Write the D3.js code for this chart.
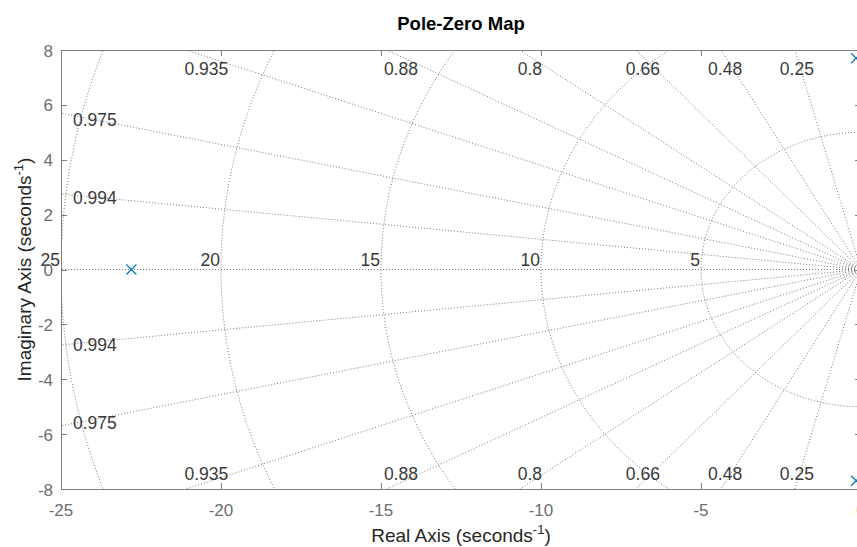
<!DOCTYPE html>
<html><head><meta charset="utf-8">
<script src="https://cdn.jsdelivr.net/npm/d3@7"></script>
<style>
body{margin:0;background:#fff;}
text{font-family:"Liberation Sans",Arial,Helvetica,sans-serif;}
</style></head>
<body><svg id="c" width="857" height="547"></svg>
<script>
// ---- data ----
const xTicks = [-25, -20, -15, -10, -5, 0];
const yTicks = [-8, -6, -4, -2, 0, 2, 4, 6, 8];
const zetaValues = [0.25, 0.48, 0.66, 0.8, 0.88, 0.935, 0.975, 0.994];
const wnValues = [5, 10, 15, 20, 25];
const poleReal = [-22.8, -0.15, -0.15];
const poleImag = [0, 7.7, -7.7];
const xDomain = [-25, 0];
const yDomain = [-8, 8];

// ---- layout ----
const W = 857, H = 547;
const m = {left: 61, right: 861, top: 50, bottom: 489};
const svg = d3.select("#c");
const x = d3.scaleLinear().domain(xDomain).range([m.left, m.right]);
const y = d3.scaleLinear().domain(yDomain).range([m.bottom, m.top]);

const gridCol = "#7a7a7a", axisCol = "#7f7f7f", tickTxt = "#6e6e6e", lblCol = "#3a3a3a";

svg.append("defs").append("clipPath").attr("id","clip")
  .append("rect").attr("x", m.left).attr("y", m.top)
  .attr("width", m.right - m.left).attr("height", m.bottom - m.top);

const grid = svg.append("g").attr("clip-path","url(#clip)")
  .attr("fill","none").attr("stroke",gridCol).attr("stroke-width",1)
  .attr("stroke-dasharray","1,2");

const line = d3.line().x(d => x(d[0])).y(d => y(d[1]));
const R = 40;
// damping lines (from origin outward)
grid.append("path").attr("d", line([[0,0],[-R,0]]));
zetaValues.forEach(z => {
  const s = Math.sqrt(1 - z*z);
  grid.append("path").attr("d", line([[0,0],[-R*z, R*s]]));
  grid.append("path").attr("d", line([[0,0],[-R*z, -R*s]]));
});
// natural frequency circles
wnValues.forEach(wn => {
  const pts = d3.range(0, 181).map(i => {
    const a = Math.PI/2 + i*Math.PI/180;
    return [wn*Math.cos(a), wn*Math.sin(a)];
  });
  grid.append("path").attr("d", line(pts));
});

// grid labels
const gl = svg.append("g").attr("font-size", 17.5).attr("fill", lblCol);
const x0 = xDomain[0], yTop = yDomain[1];
zetaValues.forEach(z => {
  const s = Math.sqrt(1 - z*z) / z;
  const atLeft = -x0 * s;
  [1, -1].forEach(sg => {
    if (atLeft <= yTop) {
      gl.append("text").attr("x", x(x0) + 12)
        .attr("y", y(sg * s * (-x0*0.97)) + 2)
        .attr("dominant-baseline","central").attr("text-anchor","start")
        .text(String(z));
    } else {
      const re = -(yTop*0.97) / s;
      gl.append("text").attr("x", x(re))
        .attr("y", sg > 0 ? y(yTop) + 19 : y(-yTop) - 15)
        .attr("dominant-baseline","central").attr("text-anchor","middle")
        .text(String(z));
    }
  });
});
wnValues.forEach(wn => {
  gl.append("text").attr("x", x(-wn) - 1).attr("y", y(0) - 4)
    .attr("text-anchor","end").text(String(wn));
});

// axes box
const ax = svg.append("g").attr("stroke", axisCol).attr("fill","none").attr("stroke-width",1);
ax.append("line").attr("x1", m.left).attr("x2", m.right).attr("y1", m.bottom+0.5).attr("y2", m.bottom+0.5);
ax.append("line").attr("x1", m.left).attr("x2", m.right).attr("y1", m.top+0.5).attr("y2", m.top+0.5);
ax.append("line").attr("x1", m.left+0.5).attr("x2", m.left+0.5).attr("y1", m.top).attr("y2", m.bottom);
ax.append("line").attr("x1", m.right-0.5).attr("x2", m.right-0.5).attr("y1", m.top).attr("y2", m.bottom);
xTicks.forEach(t => {
  const px = Math.round(x(t)) + 0.5;
  ax.append("line").attr("x1", px).attr("x2", px).attr("y1", m.bottom).attr("y2", m.bottom-6);
  ax.append("line").attr("x1", px).attr("x2", px).attr("y1", m.top).attr("y2", m.top+6);
});
yTicks.forEach(t => {
  const py = Math.round(y(t)) + 0.5;
  ax.append("line").attr("x1", m.left).attr("x2", m.left+6).attr("y1", py).attr("y2", py);
  ax.append("line").attr("x1", m.right).attr("x2", m.right-6).attr("y1", py).attr("y2", py);
});

const tl = svg.append("g").attr("font-size", 17).attr("fill", tickTxt);
xTicks.forEach(t => {
  tl.append("text").attr("x", x(t)).attr("y", m.bottom + 21)
    .attr("dominant-baseline","central").attr("text-anchor","middle").text(String(t));
});
yTicks.forEach(t => {
  tl.append("text").attr("x", m.left - 8).attr("y", y(t) + 1)
    .attr("dominant-baseline","central").attr("text-anchor","end").text(String(t));
});

// poles
const pg = svg.append("g").attr("stroke","#0072BD").attr("stroke-width",1.2);
poleReal.forEach((re, i) => {
  const px = x(re), py = y(poleImag[i]), r = 5;
  pg.append("line").attr("x1", px-r).attr("x2", px+r).attr("y1", py-r).attr("y2", py+r);
  pg.append("line").attr("x1", px-r).attr("x2", px+r).attr("y1", py+r).attr("y2", py-r);
});

// title and axis labels
svg.append("text").attr("x", (m.left+m.right)/2).attr("y", 30)
  .attr("text-anchor","middle").attr("font-weight","bold").attr("font-size", 18.5)
  .attr("fill","#000").text("Pole-Zero Map");

const xl = svg.append("text").attr("x", (m.left+m.right)/2).attr("y", 542)
  .attr("text-anchor","middle").attr("font-size", 19).attr("fill","#262626");
xl.append("tspan").text("Real Axis (seconds");
xl.append("tspan").attr("dy", -8).attr("font-size", 13).text("-1");
xl.append("tspan").attr("dy", 8).text(")");

const yl = svg.append("text")
  .attr("transform", `translate(31,${(m.top+m.bottom)/2}) rotate(-90)`)
  .attr("text-anchor","middle").attr("font-size", 19).attr("fill","#262626");
yl.append("tspan").text("Imaginary Axis (seconds");
yl.append("tspan").attr("dy", -8).attr("font-size", 13).text("-1");
yl.append("tspan").attr("dy", 8).text(")");
</script></body></html>
